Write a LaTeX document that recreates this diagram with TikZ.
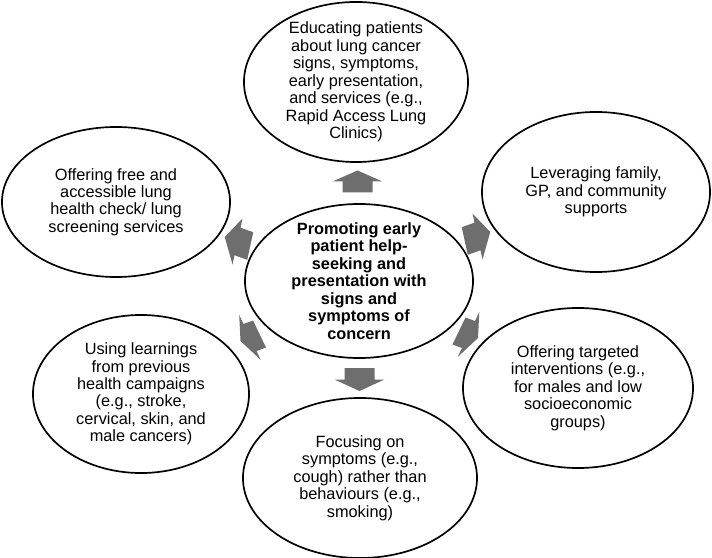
\documentclass[tikz,border=0pt]{standalone}
\usepackage{fontspec}
\setmainfont{Liberation Sans}
\usepackage{tikz}
\usetikzlibrary{calc, shapes.geometric}
\definecolor{pfeilgrau}{HTML}{6E6E6E}
\definecolor{rand}{HTML}{000000}

\begin{document}
\begin{tikzpicture}[x=0.025cm, y=-0.025cm,
    blase/.style={ellipse, draw=rand, line width=1.2pt, align=center,
      inner xsep=0pt, inner ysep=-12pt, font=\fontsize{11.6}{12.4}\selectfont}]
  \useasboundingbox (0,0) rectangle (712,558);

  % Mitte
  \node[blase, minimum width=5.7cm, minimum height=3.85cm,
        font=\fontsize{11.6}{12.4}\selectfont\bfseries] (cen) at (359,281)
    {Promoting early\\ patient help-\\ seeking and\\ presentation with\\
     signs and\\ symptoms of\\ concern};

  % Ellipsen aussen
  \node[blase, minimum width=5.6cm, minimum height=4cm] (edu) at (356,82)
    {Educating patients\\ about lung cancer\\ signs, symptoms,\\
     early presentation,\\ and services (e.g.,\\ Rapid Access Lung\\ Clinics)};
  \node[blase, minimum width=5.7cm, minimum height=4cm] (lev) at (596,192)
    {Leveraging family,\\ GP, and community\\ supports};
  \node[blase, minimum width=5.75cm, minimum height=4cm] (tgt) at (578,388)
    {Offering targeted\\ interventions (e.g.,\\ for males and low\\
     socioeconomic\\ groups)};
  \node[blase, minimum width=5.85cm, minimum height=4cm] (foc) at (360,478)
    {Focusing on\\ symptoms (e.g.,\\ cough) rather than\\
     behaviours (e.g.,\\ smoking)};
  \node[blase, minimum width=5.4cm, minimum height=3.95cm] (learn) at (141,394)
    {Using learnings\\ from previous\\ health campaigns\\ (e.g., stroke,\\
     cervical, skin, and\\ male cancers)};
  \node[blase, minimum width=5.7cm, minimum height=3.75cm] (free) at (116,202)
    {Offering free and\\ accessible lung\\ health check/ lung\\
     screening services};

  % Blockpfeile (Mitte -> aussen)
  \foreach \ziel/\ax/\ay/\bx/\by in {edu/0/-11/25/0, foc/0/11.5/25/0,
      free/-12.75/-4.5/5/-23, lev/12.75/-4.5/-5/-23,
      learn/-9.5/3.5/-10.8/-22.5, tgt/9.5/3.5/10.8/-22.5} {
    \coordinate (m) at ($(cen.center)!.5!(\ziel.center)$);
    \fill[pfeilgrau] ($(m)+(\ax,\ay)$) -- ($(m)+(\bx,\by)$)
      -- ($(m)+0.6*(\bx,\by)$) -- ($(m)-(\ax,\ay)+0.6*(\bx,\by)$)
      -- ($(m)-(\ax,\ay)-0.6*(\bx,\by)$) -- ($(m)-0.6*(\bx,\by)$)
      -- ($(m)-(\bx,\by)$) -- cycle;
  }
\end{tikzpicture}
\end{document}
